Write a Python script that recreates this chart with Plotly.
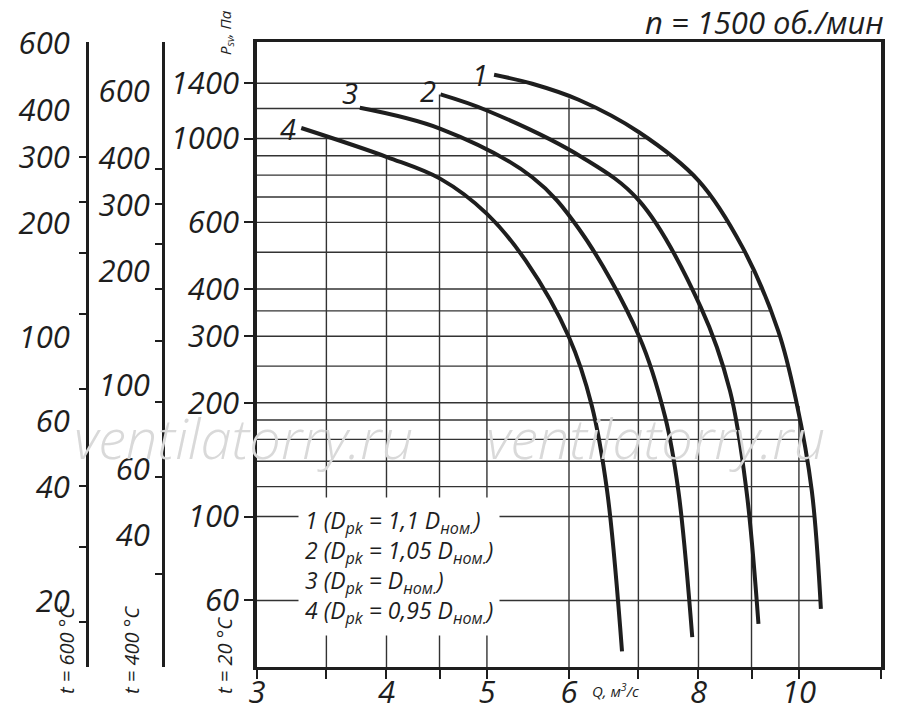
import numpy as np
import plotly.graph_objects as go

# расход Q, м3/с и давление P_sv, Па (t = 20 °C)
q1 = [5.08, 5.53, 6.13, 7.01, 8.00, 8.82, 9.55, 9.94, 10.29, 10.50]
p1 = [1475, 1396, 1266, 1039, 774, 516, 310, 202, 117, 57]
q2 = [4.51, 5.00, 6.18, 7.01, 8.04, 8.58, 8.90, 9.14]
p2 = [1308, 1186, 891, 685, 358, 215, 117, 52]
q3 = [3.77, 4.51, 5.53, 6.13, 7.01, 7.43, 7.65, 7.89]
p3 = [1206, 1061, 790, 578, 300, 183, 117, 48]
q4 = [3.31, 4.01, 4.51, 5.00, 5.45, 6.00, 6.31, 6.53, 6.75]
p4 = [1066, 892, 782, 632, 475, 298, 197, 117, 44]
curve_names = ["1", "2", "3", "4"]

legend_lines = [
    "1 (D<sub>pk</sub> = 1,1 D<sub>ном.</sub>)",
    "2 (D<sub>pk</sub> = 1,05 D<sub>ном.</sub>)",
    "3 (D<sub>pk</sub> = D<sub>ном.</sub>)",
    "4 (D<sub>pk</sub> = 0,95 D<sub>ном.</sub>)",
]

# сетка
grid_p = [1400, 1200, 1000, 900, 800, 700, 600, 500, 400, 350, 300, 250, 200, 180, 160, 140, 120, 100, 60]
grid_q = [3.5, 4, 4.5, 5, 6, 7, 8, 9, 10]
grid_q_top = [1000, 900, 1308, 1200, 1276, 1025, 771, 447, 196]

# оси
q_ticks = [3, 3.5, 4, 4.5, 5, 6, 7, 8, 9, 10, 12]
q_ticktext = ["3", "", "4", "", "5", "6", "", "8", "", "10", ""]
p_ticks = [60, 100, 200, 300, 400, 600, 1000, 1400]
p600_labels = [20, 40, 60, 100, 200, 300, 400, 600]
p600_marks = [17.6, 27.8, 40.3, 72.8, 115, 167, 228, 301]
p400_labels = [40, 60, 100, 200, 300, 400, 600]
p400_marks = [31.7, 57.2, 90.3, 131, 180, 236, 302, 373]

INK = "#1e1e1e"
FONT = "Open Sans"


# координаты на странице -> доли paper (страница сдвинута на 8px полями body)
def px_x(x):
    return (x - 8) / 873


def px_y(y):
    return (667 - y) / 625


fig = go.Figure()

# горизонтальные линии сетки доходят до кривой 1
q_end = 10 ** np.interp(np.log10(grid_p), np.log10(p1[::-1]), np.log10(q1[::-1]))
gx, gy = [], []
for p, qe in zip(grid_p, q_end):
    gx += [3, qe, None]
    gy += [p, p, None]
for q, top in zip(grid_q, grid_q_top):
    gx += [q, q, None]
    gy += [40, top, None]
fig.add_trace(go.Scatter(x=gx, y=gy, mode="lines", line=dict(color="#333333", width=1.4),
                         hoverinfo="skip", showlegend=False))

curves = [(q1, p1), (q2, p2), (q3, p3), (q4, p4)]
for (q, p), name in zip(curves, curve_names):
    fig.add_trace(go.Scatter(x=q, y=p, mode="lines", name=name,
                             line=dict(color=INK, width=4, shape="spline", smoothing=1.0),
                             showlegend=False))

# невидимые точки, чтобы отрисовались шкалы 600 °C и 400 °C
for ax, vals in [("y2", p600_labels), ("y3", p400_labels)]:
    fig.add_trace(go.Scatter(x=[q_ticks[0]] * len(vals), y=vals, yaxis=ax, mode="markers",
                             marker=dict(size=1, opacity=0), hoverinfo="skip", showlegend=False))

tickfont = dict(family=FONT, size=31, color=INK, style="italic")

fig.update_layout(
    width=884, height=699,
    template="none",
    paper_bgcolor="white", plot_bgcolor="white",
    margin=dict(l=0, r=11, t=34, b=40),
    showlegend=False,
    xaxis=dict(
        type="log", range=[np.log10(3), np.log10(12)], domain=[249 / 873, 1],
        showline=True, linewidth=3, linecolor=INK, mirror=True,
        tickmode="array", tickvals=q_ticks, ticktext=q_ticktext,
        ticks="outside", ticklen=9, tickwidth=1.5, tickcolor=INK,
        tickfont=tickfont, ticklabelstandoff=-13,
        showgrid=False, zeroline=False, automargin=False,
    ),
    yaxis=dict(
        type="log", range=[np.log10(40), np.log10(1800)],
        showline=True, linewidth=3.5, linecolor=INK, mirror=True,
        tickmode="array", tickvals=p_ticks, ticktext=[str(v) for v in p_ticks],
        ticks="outside", ticklen=9, tickwidth=1.5, tickcolor=INK,
        tickfont=tickfont, ticklabelstandoff=-1,
        showgrid=False, zeroline=False, automargin=False,
    ),
    yaxis2=dict(
        type="log", range=[1.126, 2.782], overlaying="y", anchor="free",
        position=79 / 873, side="left",
        showline=True, linewidth=3, linecolor=INK,
        tickmode="array", tickvals=p600_labels, ticktext=[str(v) for v in p600_labels],
        ticks="", tickfont=tickfont, ticklabelstandoff=10,
        minor=dict(tickvals=p600_marks, ticks="outside", ticklen=7, tickwidth=1.5,
                   tickcolor=INK, showgrid=False),
        showgrid=False, zeroline=False, automargin=False,
    ),
    yaxis3=dict(
        type="log", range=[1.2534, 2.909], overlaying="y", anchor="free",
        position=155 / 873, side="left",
        showline=True, linewidth=3, linecolor=INK,
        tickmode="array", tickvals=p400_labels, ticktext=[str(v) for v in p400_labels],
        ticks="", tickfont=tickfont, ticklabelstandoff=6,
        minor=dict(tickvals=p400_marks, ticks="outside", ticklen=7, tickwidth=1.5,
                   tickcolor=INK, showgrid=False),
        showgrid=False, zeroline=False, automargin=False,
    ),
)

# подписи кривых
label_shift = [(-4, 0), (-3, 4), (0, 15), (-3, 0)]
for (q, p), name, (dx, dy) in zip(curves, curve_names, label_shift):
    fig.add_annotation(x=np.log10(q[0]), y=np.log10(p[0]), xref="x", yref="y",
                       text=name, showarrow=False, xanchor="right", yanchor="middle",
                       xshift=dx, yshift=dy,
                       font=dict(family=FONT, size=29, color=INK, style="italic"))

# водяной знак
for cx in (243, 655):
    fig.add_annotation(x=px_x(cx), y=px_y(437), xref="paper", yref="paper",
                       text="ventilatorry.ru", showarrow=False,
                       xanchor="center", yanchor="middle",
                       font=dict(family=FONT, size=56, color="#d9d9d9",
                                 style="italic", weight=300))

# легенда на белом фоне
fig.add_annotation(x=px_x(298), y=px_y(566), xref="paper", yref="paper",
                   text="<br>".join(legend_lines), showarrow=False,
                   xanchor="left", yanchor="middle", align="left",
                   bgcolor="white", borderpad=6,
                   font=dict(family=FONT, size=23, color=INK, style="italic"))

small = dict(family=FONT, size=20, color=INK, style="italic")
fig.add_annotation(x=px_x(886), y=px_y(22), xref="paper", yref="paper",
                   text="n = 1500 об./мин", showarrow=False,
                   xanchor="right", yanchor="middle",
                   font=dict(family=FONT, size=31, color=INK, style="italic"))
fig.add_annotation(x=px_x(590), y=px_y(690), xref="paper", yref="paper",
                   text="Q, м<sup>3</sup>/с", showarrow=False,
                   xanchor="left", yanchor="middle",
                   font=dict(family=FONT, size=15, color=INK, style="italic"))
fig.add_annotation(x=px_x(226), y=px_y(33), xref="paper", yref="paper",
                   text="P<sub>sv</sub>, Па", showarrow=False, textangle=-90,
                   xanchor="center", yanchor="middle",
                   font=dict(family=FONT, size=15, color=INK, style="italic"))
for cx, cy, txt in [(224, 656, "t = 20 °C"), (131, 650, "t = 400 °C"), (66, 650, "t = 600 °C")]:
    fig.add_annotation(x=px_x(cx), y=px_y(cy), xref="paper", yref="paper",
                       text=txt, showarrow=False, textangle=-90,
                       xanchor="center", yanchor="middle", font=small)

fig.write_html("out.html")
